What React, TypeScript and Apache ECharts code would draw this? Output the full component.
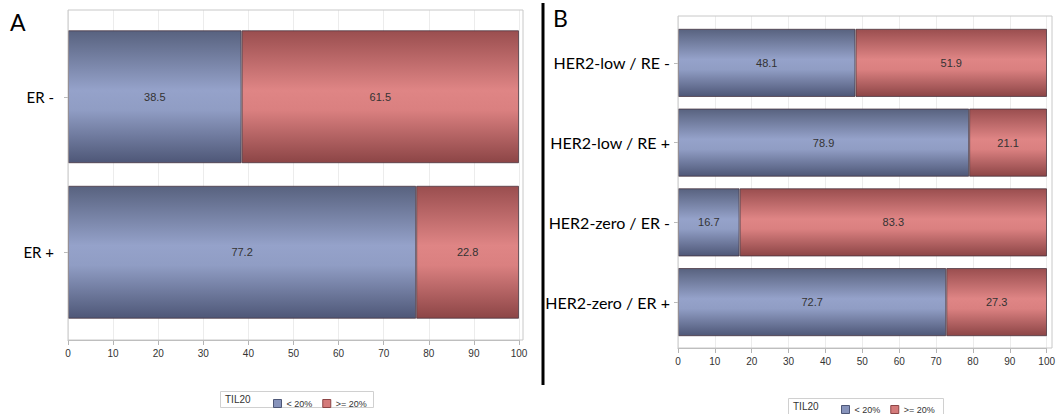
import React, { useEffect, useRef } from "react";
import * as echarts from "echarts";

const catA = ["ER -", "ER +"];
const lowA = [38.5, 77.2];
const highA = [61.5, 22.8];

const catB = ["HER2-low / RE -", "HER2-low / RE +", "HER2-zero / ER -", "HER2-zero / ER +"];
const lowB = [48.1, 78.9, 16.7, 72.7];
const highB = [51.9, 21.1, 83.3, 27.3];

const seriesNames = ["< 20%", ">= 20%"];
const xTicks = { min: 0, max: 100, interval: 10 };

const blueGrad = () =>
  new echarts.graphic.LinearGradient(0, 0, 0, 1, [
    { offset: 0, color: "#58627f" },
    { offset: 0.45, color: "#95a2ca" },
    { offset: 0.6, color: "#909dc4" },
    { offset: 1, color: "#4e5777" },
  ]);
const redGrad = () =>
  new echarts.graphic.LinearGradient(0, 0, 0, 1, [
    { offset: 0, color: "#9a4e4f" },
    { offset: 0.45, color: "#df8585" },
    { offset: 0.6, color: "#da8080" },
    { offset: 1, color: "#8c4546" },
  ]);

const labelFont = "'Liberation Sans', Arial, sans-serif";
const catFont = "Lato, 'Open Sans', sans-serif";

export default function App() {
  const ref = useRef<HTMLDivElement>(null);
  useEffect(() => {
    if (!ref.current) return;
    const chart = echarts.init(ref.current, null, { renderer: "svg" });

    const bgX = (gi: number) => ({
      type: "value",
      gridIndex: gi,
      ...xTicks,
      axisLabel: { show: true, fontSize: 10, color: "#333", fontFamily: labelFont, margin: 8 },
      axisLine: { show: true, lineStyle: { color: "#b4b4b4" } },
      axisTick: { show: true, length: 5, lineStyle: { color: "#b4b4b4" } },
      splitLine: { show: true, lineStyle: { color: "#ececec" } },
    });
    const hiddenX = (gi: number) => ({
      type: "value",
      gridIndex: gi,
      ...xTicks,
      show: false,
    });
    const bgY = (gi: number) => ({ type: "value", gridIndex: gi, show: false });
    const catY = (gi: number, data: string[], margin: number, fontSize: number) => ({
      type: "category",
      gridIndex: gi,
      data,
      inverse: true,
      axisLine: { show: false },
      axisTick: { show: true, alignWithLabel: true, length: 4, lineStyle: { color: "#bbbbbb" } },
      axisLabel: { fontSize, color: "#000", fontFamily: catFont, margin },
    });

    const barLabel = {
      show: true,
      position: "inside",
      fontSize: 11,
      color: "#333",
      fontFamily: labelFont,
      formatter: (p: any) => Number(p.value).toFixed(1),
    };
    const mkSeries = (name: string, data: number[], gi: number, grad: any, stack: string) => ({
      type: "bar",
      name,
      stack,
      xAxisIndex: gi,
      yAxisIndex: gi,
      data,
      barCategoryGap: "14.5%",
      itemStyle: { color: grad, borderColor: "rgba(70,50,60,0.75)", borderWidth: 1 },
      label: barLabel,
    });

    const legendCommon = {
      itemWidth: 8,
      itemHeight: 8,
      itemGap: 10,
      icon: "rect",
      textStyle: { fontSize: 9, color: "#333", fontFamily: labelFont },
      data: [
        { name: seriesNames[0], itemStyle: { color: "#8793bb", borderColor: "#4e5777", borderWidth: 1 } },
        { name: seriesNames[1], itemStyle: { color: "#d47a7a", borderColor: "#8c4546", borderWidth: 1 } },
      ],
      selectedMode: false,
    };

    chart.setOption({
      animation: false,
      grid: [
        { left: 68, top: 10, width: 451, height: 330 },
        { left: 68, top: 19, width: 451, height: 311 },
        { left: 678, top: 16, width: 369, height: 332 },
        { left: 678, top: 23, width: 369, height: 319 },
      ],
      xAxis: [bgX(0), hiddenX(1), bgX(2), hiddenX(3)],
      yAxis: [bgY(0), catY(1, catA, 14, 15), bgY(2), catY(3, catB, 8, 16)],
      legend: [
        { ...legendCommon, left: 268, top: 394 },
        { ...legendCommon, left: 836, top: 400 },
      ],
      series: [
        mkSeries(seriesNames[0], lowA, 1, blueGrad(), "a"),
        mkSeries(seriesNames[1], highA, 1, redGrad(), "a"),
        mkSeries(seriesNames[0], lowB, 3, blueGrad(), "b"),
        mkSeries(seriesNames[1], highB, 3, redGrad(), "b"),
      ],
      graphic: [
        { type: "rect", shape: { x: 68, y: 10, width: 455, height: 330 }, style: { fill: "none", stroke: "#c8c8c8", lineWidth: 1 }, z: 10, silent: true },
        { type: "rect", shape: { x: 678, y: 16, width: 374, height: 332 }, style: { fill: "none", stroke: "#c8c8c8", lineWidth: 1 }, z: 10, silent: true },
        { type: "line", shape: { x1: 543, y1: 3, x2: 543, y2: 385 }, style: { stroke: "#000", lineWidth: 3 }, silent: true },
        { type: "text", left: 10, top: 10, style: { text: "A", fontSize: 23, fontFamily: catFont, fill: "#000" } },
        { type: "text", left: 553, top: 6, style: { text: "B", fontSize: 23, fontFamily: catFont, fill: "#000" } },
        { type: "rect", shape: { x: 220.5, y: 391.5, width: 153, height: 16 }, style: { fill: "none", stroke: "#d0d0d0", lineWidth: 1 }, silent: true },
        { type: "text", left: 225, top: 394, style: { text: "TIL20", fontSize: 10, fontFamily: labelFont, fill: "#333" } },
        { type: "rect", shape: { x: 788.5, y: 398.5, width: 155, height: 16 }, style: { fill: "none", stroke: "#d0d0d0", lineWidth: 1 }, silent: true },
        { type: "text", left: 793, top: 401, style: { text: "TIL20", fontSize: 10, fontFamily: labelFont, fill: "#333" } },
      ],
    });
    return () => chart.dispose();
  }, []);
  return (
    <div
      ref={ref}
      style={{ position: "fixed", left: 0, top: 0, width: 1058, height: 414, background: "#fff" }}
    />
  );
}
